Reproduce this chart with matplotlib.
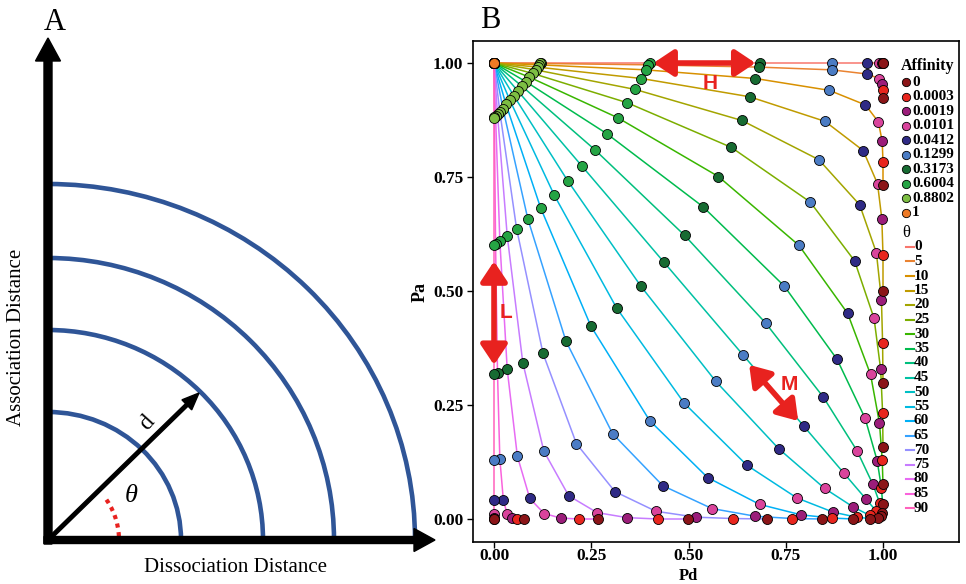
import matplotlib.pyplot as plt
from matplotlib.patches import Arc
from matplotlib.lines import Line2D

W, H = 966, 584

# ---- data (panel B) ----
theta_deg = [0, 5, 10, 15, 20, 25, 30, 35, 40, 45, 50, 55, 60, 65, 70, 75, 80, 85, 90]
theta_colors = ['#F8766D', '#EA8331', '#D89000', '#C09B00', '#A3A500', '#7CAE00', '#39B600',
                '#00BB4E', '#00BF7D', '#00C1A3', '#00BFC4', '#00BAE0', '#00B0F6', '#35A2FF',
                '#9590FF', '#C77CFF', '#E76BF3', '#FA62DB', '#FF62BC']

affinity_labels = ['0', '0.0003', '0.0019', '0.0101', '0.0412', '0.1299', '0.3173', '0.6004', '0.8802', '1']
affinity_colors = ['#8B1518', '#E8261E', '#9B1D7A', '#D9449C', '#2F2A85',
                   '#4B7CC4', '#176B32', '#25A444', '#7DBE43', '#EE7A25']

# Pa / Pd for each affinity, one value per theta (0..90)
pa_0 = [1.000, 0.924, 0.732, 0.501, 0.299, 0.158, 0.076, 0.033, 0.014, 0.006, 0.002, 0.001, 0.000, 0.000, 0.000, 0.000, 0.000, 0.000, 0.000]
pd_0 = [1.000, 1.000, 1.000, 1.000, 1.000, 1.000, 1.000, 0.999, 0.998, 0.994, 0.986, 0.967, 0.924, 0.842, 0.701, 0.499, 0.268, 0.076, 0.000]
pa_0003 = [1.000, 0.940, 0.782, 0.579, 0.385, 0.233, 0.130, 0.068, 0.034, 0.017, 0.008, 0.004, 0.002, 0.001, 0.001, 0.000, 0.000, 0.000, 0.000]
pd_0003 = [1.000, 1.000, 1.000, 1.000, 0.999, 0.999, 0.998, 0.996, 0.992, 0.983, 0.966, 0.932, 0.870, 0.767, 0.615, 0.421, 0.218, 0.060, 0.000]
pa_0019 = [1.000, 0.954, 0.828, 0.658, 0.481, 0.328, 0.210, 0.128, 0.076, 0.044, 0.026, 0.015, 0.009, 0.006, 0.004, 0.003, 0.002, 0.002, 0.002]
pd_0019 = [0.998, 0.998, 0.998, 0.997, 0.996, 0.994, 0.991, 0.985, 0.974, 0.956, 0.924, 0.872, 0.790, 0.672, 0.519, 0.342, 0.172, 0.046, 0.000]
pa_0101 = [1.000, 0.966, 0.871, 0.735, 0.584, 0.440, 0.317, 0.221, 0.150, 0.101, 0.067, 0.046, 0.032, 0.023, 0.017, 0.014, 0.012, 0.010, 0.010]
pd_0101 = [0.990, 0.990, 0.988, 0.986, 0.983, 0.977, 0.968, 0.954, 0.933, 0.899, 0.850, 0.779, 0.683, 0.560, 0.416, 0.265, 0.129, 0.034, 0.000]
pa_0412 = [1.000, 0.976, 0.908, 0.808, 0.689, 0.566, 0.451, 0.350, 0.268, 0.203, 0.154, 0.118, 0.091, 0.073, 0.060, 0.051, 0.045, 0.042, 0.041]
pd_0412 = [0.959, 0.958, 0.955, 0.949, 0.940, 0.927, 0.909, 0.882, 0.846, 0.797, 0.732, 0.650, 0.549, 0.434, 0.311, 0.192, 0.092, 0.024, 0.000]
pa_1299 = [1.000, 0.985, 0.940, 0.872, 0.788, 0.695, 0.600, 0.511, 0.430, 0.360, 0.302, 0.254, 0.216, 0.187, 0.165, 0.149, 0.138, 0.132, 0.130]
pd_1299 = [0.870, 0.868, 0.862, 0.851, 0.835, 0.813, 0.784, 0.746, 0.698, 0.640, 0.570, 0.489, 0.400, 0.305, 0.212, 0.128, 0.060, 0.015, 0.000]
pa_3173 = [1.000, 0.991, 0.966, 0.926, 0.874, 0.815, 0.751, 0.685, 0.622, 0.563, 0.510, 0.463, 0.423, 0.390, 0.363, 0.343, 0.328, 0.320, 0.317]
pd_3173 = [0.683, 0.680, 0.672, 0.657, 0.637, 0.610, 0.577, 0.537, 0.490, 0.437, 0.378, 0.315, 0.249, 0.185, 0.126, 0.074, 0.034, 0.009, 0.000]
pa_6004 = [1.000, 0.996, 0.985, 0.966, 0.942, 0.913, 0.880, 0.845, 0.810, 0.775, 0.741, 0.710, 0.682, 0.658, 0.637, 0.621, 0.610, 0.603, 0.600]
pd_6004 = [0.400, 0.397, 0.390, 0.379, 0.363, 0.342, 0.318, 0.290, 0.259, 0.225, 0.190, 0.155, 0.120, 0.087, 0.058, 0.034, 0.015, 0.004, 0.000]
pa_8802 = [1.000, 0.999, 0.996, 0.991, 0.985, 0.977, 0.969, 0.959, 0.949, 0.938, 0.928, 0.918, 0.909, 0.900, 0.893, 0.888, 0.884, 0.881, 0.880]
pd_8802 = [0.120, 0.119, 0.116, 0.112, 0.107, 0.100, 0.091, 0.082, 0.072, 0.062, 0.051, 0.041, 0.031, 0.023, 0.015, 0.009, 0.004, 0.001, 0.000]
pa_1 = [1.000, 1.000, 1.000, 1.000, 1.000, 1.000, 1.000, 1.000, 1.000, 1.000, 1.000, 1.000, 1.000, 1.000, 1.000, 1.000, 1.000, 1.000, 1.000]
pd_1 = [0.000, 0.000, 0.000, 0.000, 0.000, 0.000, 0.000, 0.000, 0.000, 0.000, 0.000, 0.000, 0.000, 0.000, 0.000, 0.000, 0.000, 0.000, 0.000]

pa_rows = [pa_0, pa_0003, pa_0019, pa_0101, pa_0412, pa_1299, pa_3173, pa_6004, pa_8802, pa_1]
pd_rows = [pd_0, pd_0003, pd_0019, pd_0101, pd_0412, pd_1299, pd_3173, pd_6004, pd_8802, pd_1]

# ---- schematic (panel A), in pixel units ----
arc_rx = [133, 215, 286, 367]
arc_ry = [128, 210, 282, 356]

SERIF = 'Liberation Serif'
SANS = 'Liberation Sans'
RED = '#E8221F'


def fx(px):
    return px / W


def fy(py):
    return 1 - py / H


fig = plt.figure(figsize=(W / 100, H / 100), dpi=100)
fig.patch.set_facecolor('white')

# ================= Panel A =================
axa = fig.add_axes([0, 0, 464 / W, 1])
axa.set_xlim(0, 464)
axa.set_ylim(0, 584)
axa.axis('off')

origin = (48, 44)
for rx, ry in zip(arc_rx, arc_ry):
    axa.add_patch(Arc(origin, 2 * rx, 2 * ry, theta1=0, theta2=90,
                      color='#2F5597', lw=3.3, zorder=1))

# axes arrows
axa.arrow(48, 40, 0, 546 - 40, width=8, head_width=25, head_length=23,
          length_includes_head=True, fc='black', ec='black', zorder=3)
axa.arrow(44, 44, 435 - 44, 0, width=7, head_width=23, head_length=21,
          length_includes_head=True, fc='black', ec='black', zorder=3)
# distance arrow
axa.arrow(48, 44, 199 - 48, 191 - 44, width=3.5, head_width=14, head_length=17,
          length_includes_head=True, fc='black', ec='black', zorder=3)
# angle
axa.add_patch(Arc(origin, 142, 142, theta1=3, theta2=38, color=RED, lw=3,
                  linestyle=(0, (1, 1.1)), zorder=2))

axa.text(147, 161, 'd', rotation=48, fontsize=17, family=SERIF, ha='center', va='center')
axa.text(131, 88, 'θ', fontsize=19, family=SERIF, fontstyle='italic', ha='center', va='center')
axa.text(17, 247, 'Association Distance', rotation=90, fontsize=15, family=SERIF,
         ha='center', va='center')
axa.text(235, 16, 'Dissociation Distance', fontsize=15, family=SERIF, ha='center', va='center')
axa.text(55, 561, 'A', fontsize=22, family=SERIF, ha='center', va='center')

# ================= Panel B =================
ax = fig.add_axes([fx(473), fy(542), (959 - 473) / W, (542 - 41) / H])
ax.set_xlim(-(494 - 473) / 389, (959 - 494) / 389)
ax.set_ylim(-(542 - 519) / 456, (519 - 41) / 456)

# one path per theta, running through the affinities
for i, th in enumerate(theta_deg):
    xs = [row[i] for row in pd_rows]
    ys = [row[i] for row in pa_rows]
    ax.plot(xs, ys, color=theta_colors[i], lw=1.1, zorder=2)

for j in reversed(range(len(affinity_labels))):
    ax.scatter(pd_rows[j], pa_rows[j], s=52, c=affinity_colors[j],
               edgecolors='black', linewidths=0.6, zorder=3)

ticks = [0, 0.25, 0.5, 0.75, 1.0]
tick_labels = ['0.00', '0.25', '0.50', '0.75', '1.00']
ax.set_xticks(ticks)
ax.set_xticklabels(tick_labels)
ax.set_yticks(ticks)
ax.set_yticklabels(tick_labels)
ax.tick_params(direction='out', length=4, width=1, labelsize=12.5)
ax.tick_params(axis='x', pad=0.5)
ax.tick_params(axis='y', pad=3)
for lab in ax.get_xticklabels() + ax.get_yticklabels():
    lab.set_fontfamily(SERIF)
    lab.set_fontweight('bold')
for sp in ax.spines.values():
    sp.set_linewidth(1.2)
    sp.set_color('black')

# red annotation arrows
arrow_kw = dict(arrowstyle='<|-|>,head_length=0.6,head_width=0.4', color=RED,
                lw=4, mutation_scale=20, shrinkA=0, shrinkB=0)
ax.annotate('', xy=(0.672, 1.0), xytext=(0.41, 1.0), arrowprops=arrow_kw, zorder=4)
ax.annotate('', xy=(0.0, 0.338), xytext=(0.0, 0.565), arrowprops=arrow_kw, zorder=4)
ax.annotate('', xy=(0.782, 0.215), xytext=(0.656, 0.338), arrowprops=arrow_kw, zorder=4)
ax.text(0.555, 0.955, 'H', color=RED, fontsize=15, fontweight='bold', family=SANS,
        ha='center', va='center', zorder=5)
ax.text(0.03, 0.452, 'L', color=RED, fontsize=15, fontweight='bold', family=SANS,
        ha='center', va='center', zorder=5)
ax.text(0.76, 0.294, 'M', color=RED, fontsize=15, fontweight='bold', family=SANS,
        ha='center', va='center', zorder=5)

fig.text(fx(688), 0.0, 'Pd', fontsize=12, fontweight='bold', family=SERIF,
         ha='center', va='bottom')
fig.text(fx(420), fy(292), 'Pa', fontsize=13, fontweight='bold', family=SERIF,
         rotation=90, ha='center', va='center')
fig.text(fx(490), fy(20), 'B', fontsize=22, family=SERIF, ha='center', va='center')

# legends (drawn by hand so the rows sit tight like the original)
fig.text(fx(901), fy(66), 'Affinity', fontsize=11.5, fontweight='bold', family=SERIF,
         ha='left', va='center')
for k, (lab, col) in enumerate(zip(affinity_labels, affinity_colors)):
    yy = 82 + k * 14.55
    fig.add_artist(Line2D([fx(906)], [fy(yy)], marker='o', ms=6, mfc=col,
                          mec='black', mew=0.6, ls='none'))
    fig.text(fx(912), fy(yy), lab, fontsize=11, fontweight='bold', family=SERIF,
             ha='left', va='center')

fig.text(fx(902), fy(233), 'θ', fontsize=12, family=SERIF, ha='left', va='center')
for k, (th, col) in enumerate(zip(theta_deg, theta_colors)):
    yy = 247 + k * 14.5
    fig.add_artist(Line2D([fx(906), fx(914)], [fy(yy), fy(yy)], color=col, lw=1.5))
    fig.text(fx(914), fy(yy), str(th), fontsize=11, fontweight='bold', family=SERIF,
             ha='left', va='center')

fig.savefig('out.png', dpi=100, facecolor='white')
